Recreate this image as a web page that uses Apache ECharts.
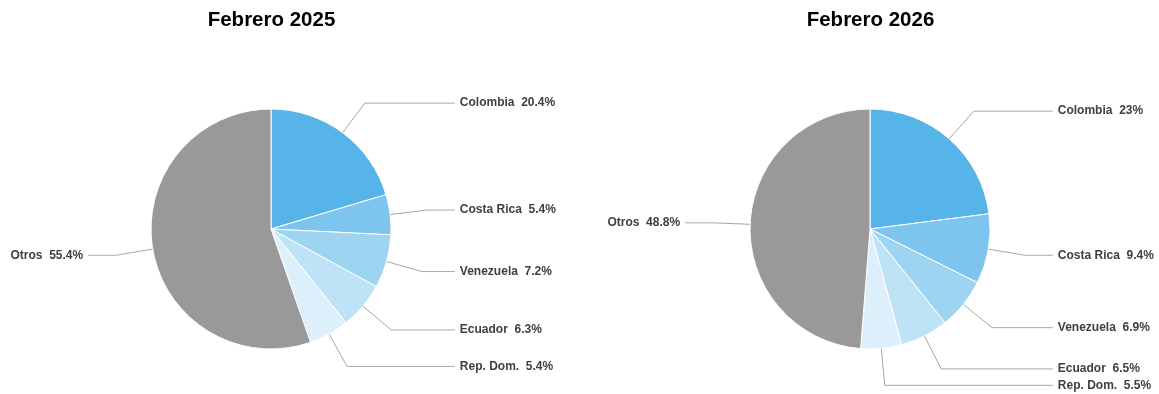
<!DOCTYPE html>
<html>
<head>
<meta charset="utf-8">
<script src="https://cdn.jsdelivr.net/npm/echarts@6/dist/echarts.min.js"></script>
<style>
  html, body { margin: 0; padding: 0; background: #fff; }
  #chart { width: 1159px; height: 394px; }
</style>
</head>
<body>
<div id="chart"></div>
<script>
// categorías y valores (%)
var categorias = ['Colombia', 'Costa Rica', 'Venezuela', 'Ecuador', 'Rep. Dom.', 'Otros'];
var valores2025 = [20.4, 5.4, 7.2, 6.3, 5.4, 55.4];
var valores2026 = [23, 9.4, 6.9, 6.5, 5.5, 48.8];
var titulos = ['Febrero 2025', 'Febrero 2026'];
var colores = ['#56b4e9', '#7dc4ee', '#9dd4f2', '#bfe3f6', '#ddeffb', '#999999'];

function armarDatos(valores) {
  return categorias.map(function (c, i) {
    return { name: c, value: valores[i], itemStyle: { color: colores[i] } };
  });
}

function serie(valores, left, width, cx) {
  return {
    type: 'pie',
    left: left,
    top: 0,
    width: width,
    height: 394,
    center: [cx, 229],
    radius: 120,
    startAngle: 90,
    clockwise: true,
    animation: false,
    itemStyle: { borderColor: '#fff', borderWidth: 1 },
    label: {
      formatter: '{b}  {c}%',
      fontFamily: 'Liberation Sans, Arial, sans-serif',
      fontWeight: 'bold',
      fontSize: 12,
      color: '#404040',
      overflow: 'none',
      alignTo: 'labelLine'
    },
    labelLine: {
      length: 37,
      length2: 28,
      lineStyle: { color: '#a6a6a6', width: 1 }
    },
    emphasis: { disabled: true },
    data: armarDatos(valores)
  };
}

var estiloTitulo = { fontFamily: 'Liberation Sans, Arial, sans-serif', fontSize: 20.5, fontWeight: 'bold', color: '#000' };

var chart = echarts.init(document.getElementById('chart'));
chart.setOption({
  backgroundColor: '#fff',
  title: [
    { text: titulos[0], left: 266.5, top: 5, textAlign: 'center', textStyle: estiloTitulo },
    { text: titulos[1], left: 865.5, top: 5, textAlign: 'center', textStyle: estiloTitulo }
  ],
  series: [
    serie(valores2025, 0, 580, 271),
    serie(valores2026, 580, 640, 290)
  ]
});
</script>
</body>
</html>
